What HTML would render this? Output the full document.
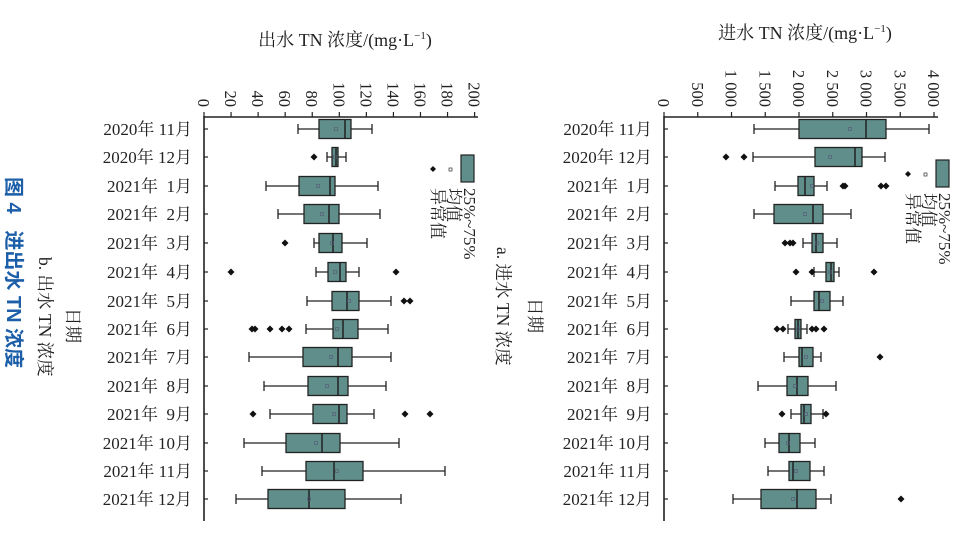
<!DOCTYPE html>
<html><head><meta charset="utf-8"><style>
html,body{margin:0;padding:0;background:#fff;}
svg{display:block;font-family:"Liberation Serif","Noto Serif CJK SC",serif;}
</style></head><body>
<svg id="s" width="961" height="553" viewBox="0 0 961 553" xmlns="http://www.w3.org/2000/svg"></svg>
<script>
const s=document.getElementById('s');let h='';
const F='#5f8e8b';
const rowsY=[129,157,186,214,243,272,301,329,357,386,414,443,471,499];
const labels=['2020年 11月','2020年 12月','2021年  1月','2021年  2月','2021年  3月','2021年  4月','2021年  5月','2021年  6月','2021年  7月','2021年  8月','2021年  9月','2021年 10月','2021年 11月','2021年 12月'];
const L=[[298,372,319,351,345,336,[]],[327,346,332,338,336,335,[314]],[266,378,299,335,330,318,[]],[278,380,304,339,329,322,[]],[314,367,319,342,333,332,[285]],
[316,359,328,346,340,335,[231,396]],[307,391,332,359,347,349,[404,410]],[306,388,333,358,343,337,[252,255,270,282,289]],[249,391,303,352,338,331,[]],[264,386,308,348,338,327,[]],
[270,374,313,347,339,334,[253,405,430]],[244,399,286,340,322,316,[]],[262,445,306,363,334,337,[]],[236,401,268,345,309,309,[]]];
const R=[[754,929,799,886,866,850,[]],[753,885,815,862,855,830,[726,744]],[775,827,798,814,805,812,[843,845,881,886]],[754,851,774,823,813,805,[]],[803,837,812,823,816,817,[785,790,793]],
[814,839,826,834,831,830,[796,812,874]],[791,843,814,830,819,822,[]],[788,807,795,801,798,798,[777,783,812,816,824]],[784,821,799,813,802,806,[880]],[758,836,787,808,797,795,[]],
[791,823,801,811,804,806,[782,826]],[765,815,779,800,789,788,[]],[768,824,789,810,793,796,[]],[733,831,761,816,797,793,[901]]];
function plot(ax0,ax1,D,ticks,labX){
 h+=`<line x1="${ax0}" y1="117" x2="${ax1}" y2="117" stroke="#222" stroke-width="1.6"/>`;
 h+=`<line x1="${ax0}" y1="116" x2="${ax0}" y2="521" stroke="#222" stroke-width="1.6"/>`;
 ticks.forEach(t=>{h+=`<line x1="${t[0]}" y1="117" x2="${t[0]}" y2="112" stroke="#222" stroke-width="1.2"/>`;
  h+=`<text transform="translate(${t[0]-6},107) rotate(90)" text-anchor="end" font-size="16.5" fill="#222">${t[1]}</text>`;});
 D.forEach((d,i)=>{const y=rowsY[i];
  h+=`<line x1="${ax0}" y1="${y}" x2="${ax0+4}" y2="${y}" stroke="#222" stroke-width="1.2"/>`;
  h+=`<text x="${labX}" y="${y+6}" text-anchor="end" font-size="17" fill="#222" xml:space="preserve">${labels[i]}</text>`;
  h+=`<line x1="${d[0]}" y1="${y}" x2="${d[1]}" y2="${y}" stroke="#222" stroke-width="1.3"/>`;
  h+=`<line x1="${d[0]}" y1="${y-5}" x2="${d[0]}" y2="${y+5}" stroke="#222" stroke-width="1.3"/>`;
  h+=`<line x1="${d[1]}" y1="${y-5}" x2="${d[1]}" y2="${y+5}" stroke="#222" stroke-width="1.3"/>`;
  h+=`<rect x="${d[2]}" y="${y-9.5}" width="${d[3]-d[2]}" height="19" fill="${F}" stroke="#222" stroke-width="1.3"/>`;
  h+=`<line x1="${d[4]}" y1="${y-9.5}" x2="${d[4]}" y2="${y+9.5}" stroke="#222" stroke-width="1.5"/>`;
  h+=`<rect x="${d[5]-1.5}" y="${y-1.5}" width="3" height="3" fill="none" stroke="#557" stroke-width="0.6"/>`;
  d[6].forEach(o=>{h+=`<path d="M${o} ${y-3.5}L${o+3.5} ${y}L${o} ${y+3.5}L${o-3.5} ${y}Z" fill="#111"/>`;});
 });
}
let lt=[];for(let v=0;v<=200;v+=20)lt.push([204+v*1.353,v]);
let rt=[];['0','500','1 000','1 500','2 000','2 500','3 000','3 500','4 000'].forEach((t,i)=>rt.push([664+i*500*0.0675,t]));
plot(204,478,L,lt,192);plot(664,938,R,rt,652);
h+=`<text x="345" y="46" text-anchor="middle" font-size="18" fill="#222">出水 TN 浓度/(mg·L<tspan font-size="11" dy="-7">−1</tspan><tspan dy="7">)</tspan></text>`;
h+=`<text x="805" y="39" text-anchor="middle" font-size="18" fill="#222">进水 TN 浓度/(mg·L<tspan font-size="11" dy="-7">−1</tspan><tspan dy="7">)</tspan></text>`;
function leg(x,y,ty){h+=`<rect x="${x}" y="${y}" width="13" height="27" fill="${F}" stroke="#222" stroke-width="1.2"/>`;
 h+=`<rect x="${x-12}" y="${y+13}" width="3" height="3" fill="none" stroke="#333" stroke-width="0.7"/>`;
 h+=`<path d="M${x-28} ${y+11}L${x-25} ${y+14}L${x-28} ${y+17}L${x-31} ${y+14}Z" fill="#111"/>`;
 h+=`<text transform="translate(${x+3},${ty}) rotate(90)" font-size="17" fill="#222">25%~75%</text>`;
 h+=`<text transform="translate(${x-13},${ty}) rotate(90)" font-size="17" fill="#222">均值</text>`;
 h+=`<text transform="translate(${x-29},${ty}) rotate(90)" font-size="17" fill="#222">异常值</text>`;}
leg(461,155,188);leg(936,160,193);
function vt(x,y,t,fs,col){h+=`<text transform="translate(${x},${y}) rotate(90)" font-size="${fs}" fill="${col}" xml:space="preserve">${t}</text>`;}
vt(67,308,'日期',17.5,'#222');vt(39,257,'b. 出水 TN 浓度',17.5,'#222');
vt(529,298,'日期',17.5,'#222');vt(497,247,'a. 进水 TN 浓度',17.5,'#222');
h+=`<text transform="translate(7,177) rotate(90)" font-size="20" fill="#1c5fa8" font-weight="bold" font-family="Liberation Sans,Noto Sans CJK SC,sans-serif" xml:space="preserve">图 4   进出水 TN 浓度</text>`;
s.innerHTML=h;
</script>
</body></html>
